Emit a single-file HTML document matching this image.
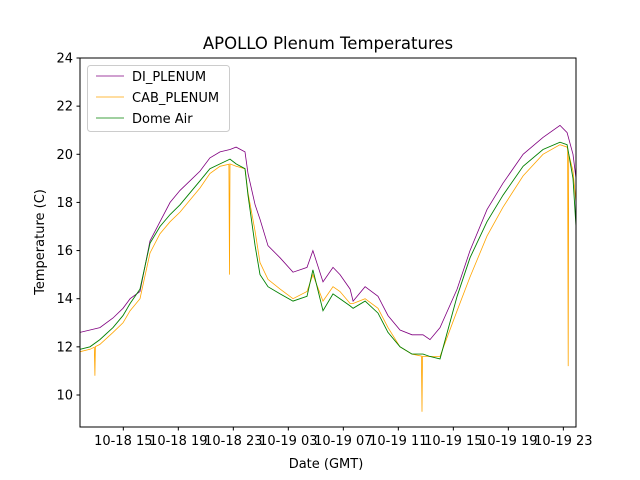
<!DOCTYPE html>
<html><head><meta charset="utf-8"><style>
body{margin:0;background:#fff}
svg{display:block;font-family:"DejaVu Sans","Liberation Sans",sans-serif}
</style></head><body>
<svg id="c" width="640" height="480">
<rect width="640" height="480" fill="#fff"/>
<text x="328" y="49" text-anchor="middle" font-size="16.5">APOLLO Plenum Temperatures</text>
<g id="plot"></g>
<g id="axes"></g>
<text x="326" y="468" text-anchor="middle" font-size="13">Date (GMT)</text>
<text transform="translate(44,242) rotate(-90)" text-anchor="middle" font-size="13">Temperature (C)</text>
<g>
<rect x="87.5" y="65.5" width="142" height="66" rx="3" fill="#fff" fill-opacity="0.8" stroke="#ccc"/>
<line x1="96" y1="76" x2="124" y2="76" stroke="purple" stroke-width="0.8"/>
<text x="132" y="81" font-size="13">DI_PLENUM</text>
<line x1="96" y1="97" x2="124" y2="97" stroke="orange" stroke-width="0.8"/>
<text x="132" y="102" font-size="13">CAB_PLENUM</text>
<line x1="96" y1="118" x2="124" y2="118" stroke="green" stroke-width="0.8"/>
<text x="132" y="123" font-size="13">Dome Air</text>
</g>
</svg>
<script>
const hours=[11.85,12.58,13.30,14.25,14.98,15.49,16.21,16.94,17.67,18.40,19.12,19.85,20.58,21.30,22.03,22.76,23.20,23.85,24.07,24.58,24.94,25.52,26.40,27.34,28.36,28.79,29.52,30.25,30.76,31.49,31.71,32.58,33.52,34.25,35.12,35.99,36.79,37.30,38.03,39.27,40.21,41.45,42.61,44.07,45.52,46.76,47.27,47.70,47.92];
const diPlenum=[12.6,12.7,12.8,13.2,13.6,14.0,14.3,16.4,17.2,18.0,18.5,18.9,19.3,19.85,20.1,20.2,20.3,20.1,19.2,17.9,17.3,16.2,15.7,15.1,15.3,16.0,14.7,15.3,15.0,14.4,13.9,14.5,14.1,13.3,12.7,12.5,12.5,12.3,12.8,14.4,16.0,17.7,18.8,20.0,20.7,21.2,20.9,20.0,19.0];
const cabPlenum=[11.8,11.9,12.1,12.6,13.0,13.5,14.0,15.9,16.7,17.2,17.6,18.1,18.6,19.2,19.5,19.6,19.5,19.4,18.4,16.8,15.5,14.8,14.4,14.0,14.3,15.0,13.9,14.5,14.3,13.8,13.8,14.0,13.6,12.8,12.0,11.7,11.6,11.6,11.6,13.5,14.9,16.6,17.8,19.1,20.0,20.4,20.3,19.3,18.0];
const domeAir=[11.9,12.0,12.3,12.8,13.3,13.8,14.4,16.3,17.0,17.5,17.9,18.4,18.9,19.4,19.6,19.8,19.6,19.4,18.3,16.2,15.0,14.5,14.2,13.9,14.1,15.2,13.5,14.2,14.0,13.7,13.6,13.9,13.4,12.6,12.0,11.7,11.7,11.6,11.5,14.1,15.7,17.2,18.3,19.5,20.2,20.5,20.4,19.0,17.0];
const cabSpikeHours=[12.93,22.72,36.72,47.35];
const cabSpikeValues=[10.8,15.0,9.3,11.2];
const yTicks=[10,12,14,16,18,20,22,24];
const xTickHours=[15,19,23,27,31,35,39,43,47];
const xTickLabels=["10-18 15","10-18 19","10-18 23","10-19 03","10-19 07","10-19 11","10-19 15","10-19 19","10-19 23"];
const X0=80,X1=576,Y0=58,Y1=427,H0=11.85,H1=47.92,T0=8.67,T1=24;
const xs=h=>X0+(h-H0)/(H1-H0)*(X1-X0);
const ys=v=>Y1-(v-T0)/(T1-T0)*(Y1-Y0);
const NS="http://www.w3.org/2000/svg";
const plot=document.getElementById('plot'),axes=document.getElementById('axes');
function mk(tag,attrs,parent){const e=document.createElementNS(NS,tag);for(const k in attrs)e.setAttribute(k,attrs[k]);parent.appendChild(e);return e;}
function interp(arr,h){for(let i=0;i<hours.length-1;i++){if(h>=hours[i]&&h<=hours[i+1]){const f=(h-hours[i])/(hours[i+1]-hours[i]);return arr[i]+f*(arr[i+1]-arr[i]);}}return arr[arr.length-1];}
function pts(arr,sh,sv){let p=hours.map((h,i)=>[h,arr[i]]);if(sh){sh.forEach((h,i)=>{p.push([h-0.04,interp(arr,h-0.04)]);p.push([h,sv[i]]);p.push([h+0.04,interp(arr,h+0.04)]);});p.sort((a,b)=>a[0]-b[0]);}return p.map(q=>xs(q[0]).toFixed(1)+','+ys(q[1]).toFixed(1)).join(' ');}
const clip=mk('clipPath',{id:'pc'},plot);mk('rect',{x:X0,y:Y0,width:X1-X0,height:Y1-Y0},clip);
const g=mk('g',{'clip-path':'url(#pc)'},plot);
let l=mk('polyline',{points:pts(diPlenum),fill:'none',stroke:'purple','stroke-width':0.8},g);


l=mk('polyline',{points:pts(cabPlenum,cabSpikeHours,cabSpikeValues),fill:'none',stroke:'orange','stroke-width':0.8},g);


l=mk('polyline',{points:pts(domeAir),fill:'none',stroke:'green','stroke-width':0.9},g);


const fr=mk('rect',{x:X0,y:Y0,width:X1-X0,height:Y1-Y0,fill:'none',stroke:'#000','stroke-width':1},axes);


yTicks.forEach(v=>{const y=ys(v);mk('line',{x1:X0-3.5,x2:X0,y1:y,y2:y,stroke:'#000'},axes);const t=mk('text',{x:X0-7,y:y+4.5,'text-anchor':'end','font-size':13},axes);t.textContent=v;

});
xTickHours.forEach((h,i)=>{const x=xs(h);mk('line',{x1:x,x2:x,y1:Y1,y2:Y1+3.5,stroke:'#000'},axes);const t=mk('text',{x:x,y:Y1+18,'text-anchor':'middle','font-size':13},axes);t.textContent=xTickLabels[i];

});
</script>
</body></html>
